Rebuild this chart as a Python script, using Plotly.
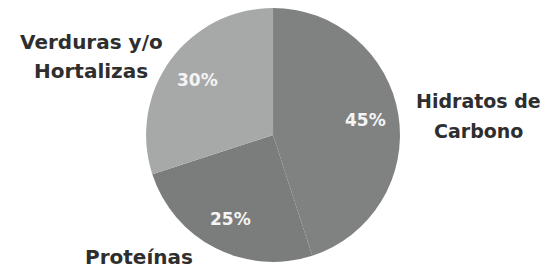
import math
import plotly.graph_objects as go

categories = ["Hidratos de Carbono", "Proteínas", "Verduras y/o Hortalizas"]
label_lines = [["Hidratos de", "Carbono"], ["Proteínas"], ["Verduras y/o", "Hortalizas"]]
values = [45, 25, 30]
percent_labels = ["45%", "25%", "30%"]
colors = ["#808281", "#7b7d7c", "#a7a9a8"]

W, H = 551, 273
OFF = 8  # page body margin
dom_x = [0.2505, 0.7115]
dom_y = [0.07, 1.0]


def px_to_paper(x, y):
    return (x - OFF) / W, 1 - (y - OFF) / H


fig = go.Figure(go.Pie(
    labels=categories,
    values=values,
    textinfo="none",
    sort=False,
    direction="clockwise",
    rotation=0,
    marker=dict(colors=colors, line=dict(width=0)),
    showlegend=False,
    hoverinfo="label+percent",
    domain=dict(x=dom_x, y=dom_y),
))

# percent labels along each slice's mid-angle (figure coordinates)
cx = (dom_x[0] + dom_x[1]) / 2 * W
cy = (1 - (dom_y[0] + dom_y[1]) / 2) * H
r = min((dom_x[1] - dom_x[0]) * W, (dom_y[1] - dom_y[0]) * H) / 2
total = sum(values)
start = 0.0
pct_font = dict(family="DejaVu Sans", size=17, color="#f4f4f4")
for v, t in zip(values, percent_labels):
    mid = (start + v / 2) / total * 2 * math.pi
    start += v
    px = cx + 0.74 * r * math.sin(mid)
    py = cy - 0.74 * r * math.cos(mid)
    fig.add_annotation(x=px / W, y=1 - py / H, xref="paper", yref="paper",
                       xanchor="center", yanchor="middle",
                       text="<b>" + t + "</b>", showarrow=False, font=pct_font)

# category labels (window pixel anchors for each line)
label_sizes = [19, 20, 20]
label_pos = [[(478, 101), (478, 131)], [(139, 257)], [(91, 42), (91, 71)]]
for lines, poss, fs in zip(label_lines, label_pos, label_sizes):
    for line, (lx, ly) in zip(lines, poss):
        ax, ay = px_to_paper(lx, ly)
        fig.add_annotation(x=ax, y=ay, xref="paper", yref="paper",
                           xanchor="center", yanchor="middle",
                           text="<b>" + line + "</b>", showarrow=False,
                           font=dict(family="DejaVu Sans", size=fs, color="#2e2e2e"))

fig.update_layout(
    width=W, height=H,
    margin=dict(l=0, r=0, t=0, b=0),
    paper_bgcolor="white",
    plot_bgcolor="white",
)

fig.write_html("out.html")
